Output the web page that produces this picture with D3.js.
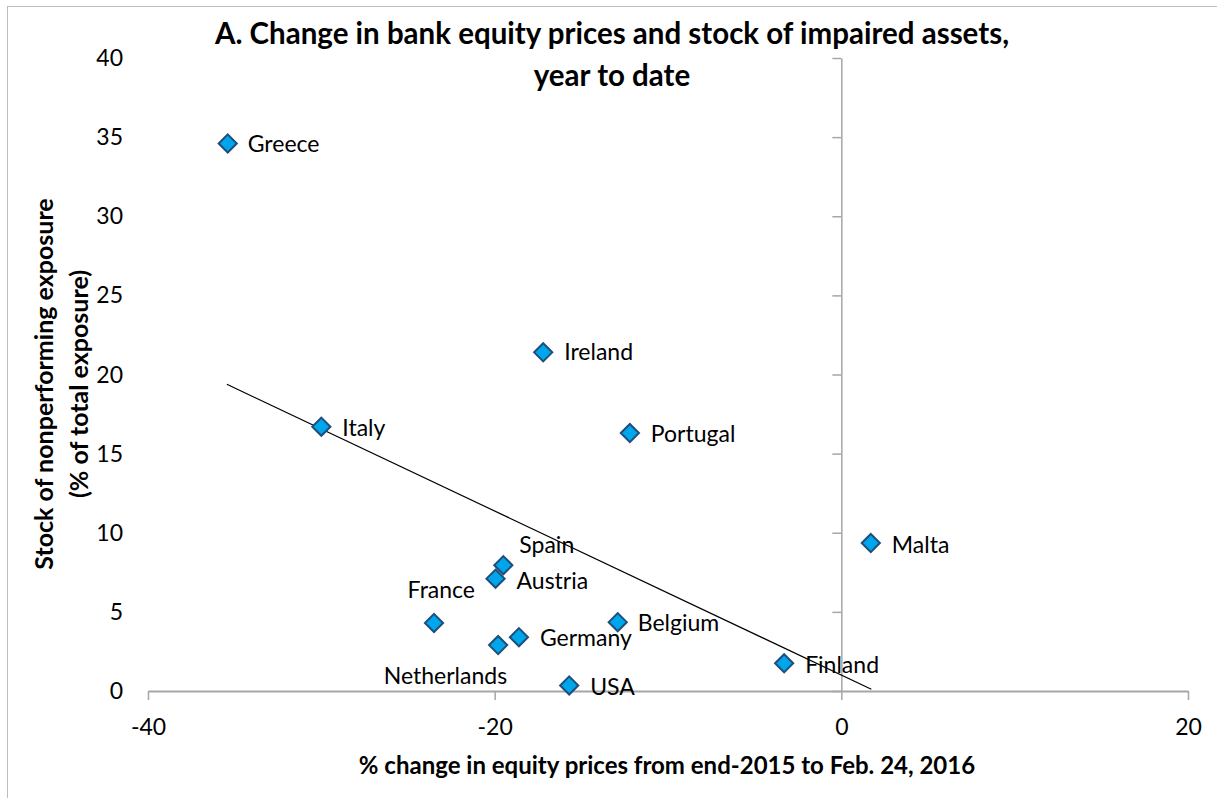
<!DOCTYPE html>
<html>
<head>
<meta charset="utf-8">
<script src="https://cdn.jsdelivr.net/npm/d3@7"></script>
<style>
  body { margin: 0; background: #fff; }
  text { font-family: Lato, "Open Sans", sans-serif; fill: #000; }
</style>
</head>
<body>
<div class="canvas"></div>
<script>
// data
const countries = ["Greece", "Ireland", "Italy", "Portugal", "Malta", "Spain", "Austria",
  "France", "Belgium", "Germany", "Netherlands", "USA", "Finland"];
const equityChange = [-35.4, -17.2, -30.0, -12.2, 1.7, -19.5, -19.95, -23.5, -12.9, -18.6, -19.8, -15.7, -3.3];
const nplStock = [34.6, 21.4, 16.7, 16.3, 9.35, 7.95, 7.1, 4.3, 4.35, 3.4, 2.9, 0.35, 1.75];
const trendX = [-35.45, 1.73];
const trendY = [19.38, 0.11];
const xTicks = [-40, -20, 0, 20];
const yTicks = [0, 5, 10, 15, 20, 25, 30, 35, 40];

const svgWidth = 1217;
const svgHeight = 798;
const margin = { t: 58, r: 29, b: 107, l: 148 };
const gWidth = svgWidth - margin.l - margin.r;
const gHeight = svgHeight - margin.t - margin.b;

// label placement relative to the marker (px)
const labelPos = {
  Greece: [20, 0, "start"], Ireland: [21, 0, "start"], Italy: [21, 1, "start"],
  Portugal: [21, 1, "start"], Malta: [21, 2, "start"], Spain: [16, -20, "start"],
  Austria: [21, 2, "start"], France: [41, -33, "end"], Belgium: [20, 1, "start"],
  Germany: [21, 1, "start"], Netherlands: [9, 31, "end"], USA: [21, 1, "start"],
  Finland: [21, 2, "start"]
};

const svg = d3.select(".canvas").append("svg")
  .attr("width", svgWidth)
  .attr("height", svgHeight);

svg.append("rect")
  .attr("x", 7.5).attr("y", 6.5)
  .attr("width", 1216).attr("height", 800)
  .attr("fill", "none")
  .attr("stroke", "#bdbdbd");

const g = svg.append("g")
  .attr("transform", `translate(${margin.l}, ${margin.t})`);

const x = d3.scaleLinear().domain([-40, 20]).range([0, gWidth]);
const y = d3.scaleLinear().domain([0, 40]).range([gHeight, 0]);

const axisColor = "#a6a6a6";

// x axis along y = 0
const xAxis = d3.axisBottom(x).tickValues(xTicks).tickSize(9).tickSizeOuter(0).tickFormat(d3.format("d"));
const xAxisGroup = g.append("g")
  .attr("transform", `translate(0, ${y(0)})`)
  .call(xAxis);
xAxisGroup.select(".domain").attr("stroke", axisColor).attr("stroke-width", 2);
xAxisGroup.selectAll(".tick line").attr("stroke", axisColor).attr("stroke-width", 1.5);
xAxisGroup.selectAll(".tick text")
  .attr("y", 28)
  .attr("font-size", 23)
  .attr("fill", "#000")
  .text(d => d < 0 ? "-" + Math.abs(d) : d);

// y axis crossing at x = 0, labels kept at the left edge
const yAxis = d3.axisLeft(y).tickValues(yTicks).tickSize(9).tickSizeOuter(0).tickFormat("");
const yAxisGroup = g.append("g")
  .attr("transform", `translate(${x(0)}, 0)`)
  .call(yAxis);
yAxisGroup.select(".domain").attr("stroke", axisColor).attr("stroke-width", 1.5);
yAxisGroup.selectAll(".tick line").attr("stroke", axisColor).attr("stroke-width", 1.5);

g.append("g")
  .selectAll("text")
  .data(yTicks)
  .enter()
  .append("text")
  .attr("x", -25)
  .attr("y", d => y(d))
  .attr("dy", "0.35em")
  .attr("text-anchor", "end")
  .attr("font-size", 23)
  .text(d => d);

// trend line
const line = d3.line().x(d => x(d[0])).y(d => y(d[1]));
g.append("path")
  .datum(d3.zip(trendX, trendY))
  .attr("fill", "none")
  .attr("stroke", "#000")
  .attr("stroke-width", 1.2)
  .attr("d", line);

// markers
const points = countries.map((c, i) => ({ name: c, x: equityChange[i], y: nplStock[i] }));

g.selectAll("path.pt")
  .data(points)
  .enter()
  .append("path")
  .attr("class", "pt")
  .attr("d", d3.symbol().type(d3.symbolDiamond2).size(210))
  .attr("transform", d => `translate(${x(d.x)}, ${y(d.y)})`)
  .attr("fill", "#00a6ec")
  .attr("stroke", "#1f4e79")
  .attr("stroke-width", 2);

g.selectAll("text.lbl")
  .data(points)
  .enter()
  .append("text")
  .attr("class", "lbl")
  .attr("x", d => x(d.x) + labelPos[d.name][0])
  .attr("y", d => y(d.y) + labelPos[d.name][1])
  .attr("dy", "0.35em")
  .attr("text-anchor", d => labelPos[d.name][2])
  .attr("font-size", 23)
  .text(d => d.name);

// titles
const title = svg.append("text")
  .attr("text-anchor", "middle")
  .attr("font-weight", "bold")
  .attr("font-size", 29.5);
title.append("tspan").attr("x", 612).attr("y", 44).text("A. Change in bank equity prices and stock of impaired assets,");
title.append("tspan").attr("x", 612).attr("y", 86).text("year to date");

svg.append("text")
  .attr("x", 667)
  .attr("y", 774)
  .attr("text-anchor", "middle")
  .attr("font-weight", "bold")
  .attr("font-size", 24)
  .text("% change in equity prices from end-2015 to Feb. 24, 2016");

const yTitle = svg.append("text")
  .attr("transform", "translate(0, 384) rotate(-90)")
  .attr("text-anchor", "middle")
  .attr("font-weight", "bold")
  .attr("font-size", 25);
yTitle.append("tspan").attr("x", 0).attr("y", 53).text("Stock of nonperforming exposure");
yTitle.append("tspan").attr("x", 0).attr("y", 88).text("(% of total exposure)");
</script>
</body>
</html>
